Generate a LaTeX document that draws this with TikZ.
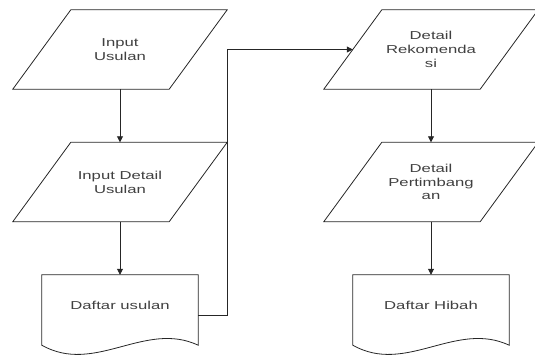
\documentclass[tikz,border=0pt]{standalone}
\usepackage{fontspec}
\setmainfont{Liberation Sans}
\newfontfamily\widefont[FakeStretch=1.45]{Liberation Sans}
\usetikzlibrary{calc,arrows.meta}
\tikzset{
  shapeline/.style={draw=black!85, line width=0.8pt, line join=miter},
  txtbox/.style={minimum width=156pt, inner sep=0pt, align=center, text=black!75,
    font=\widefont\fontsize{11.5}{13.8}\selectfont},
  parabox/.style={txtbox, minimum height=79pt},
  docbox/.style={txtbox, minimum height=60pt},
  arr/.style={draw=black!85, line width=0.8pt, -{Triangle[width=6pt,length=6pt]}}
}
\newcommand\parashape[1]{%
  \draw[shapeline] ($(#1.south west)+(-29,0)$) -- ($(#1.south east)+(-29,0)$)
    -- ($(#1.north east)+(29,0)$) -- ($(#1.north west)+(29,0)$) -- cycle;}
\newcommand\docshape[1]{%
  \draw[shapeline] (#1.north west) -- (#1.north east) -- ($(#1.south east)+(0,10)$)
    .. controls ($(#1.south west)+(103,-15)$) and ($(#1.south west)+(53,40)$) ..
    ($(#1.south west)+(0,10)$) -- cycle;}
\begin{document}
\begin{tikzpicture}[x=1pt,y=-1pt]
\useasboundingbox (0,0) rectangle (535,356);
\node[parabox] (p1) at (120,49.5) {Input\\Usulan};
\node[parabox] (p2) at (120,182) {Input Detail\\Usulan};
\node[docbox]  (d1) at (120,305) {Daftar usulan};
\node[parabox] (p3) at (431,49.5) {Detail\\Rekomenda\\si};
\node[parabox] (p4) at (431,182) {Detail\\Pertimbang\\an};
\node[docbox]  (d2) at (431,305) {Daftar Hibah};
\parashape{p1}
\parashape{p2}
\parashape{p3}
\parashape{p4}
\docshape{d1}
\docshape{d2}
\draw[arr] (p1.south) -- (p2.north);
\draw[arr] (p2.south) -- (d1.north);
\draw[arr] (p3.south) -- (p4.north);
\draw[arr] (p4.south) -- (d2.north);
\draw[arr] ([yshift=-10pt]d1.east) -- ++(29,0) |- (p3.west);
\end{tikzpicture}
\end{document}
